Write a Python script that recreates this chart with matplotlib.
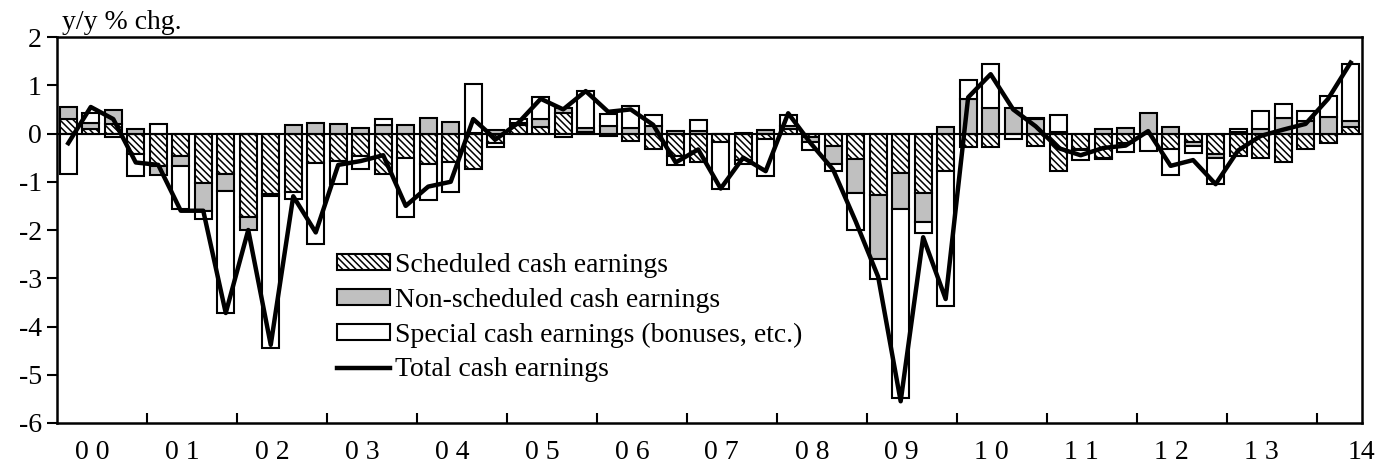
import matplotlib
matplotlib.use("Agg")
import matplotlib.pyplot as plt
import numpy as np
from matplotlib.lines import Line2D
from matplotlib.patches import Patch

plt.rcParams["font.family"] = ["Liberation Serif", "DejaVu Serif"]
plt.rcParams["hatch.linewidth"] = 1.1

# quarterly, 2000 Q1 .. 2014 Q2 (y/y % chg.)
scheduled = [0.31, 0.09, 0.20, -0.43, -0.67, -0.46, -1.03, -0.84,
             -1.74, -1.25, -1.22, -0.62, -0.57, -0.46, -0.84, -0.51,
             -0.64, -0.60, -0.74, -0.20, 0.17, 0.14, 0.43, 0.04,
             -0.05, -0.16, -0.33, -0.46, -0.60, -0.17, -0.55, -0.12,
             0.10, -0.08, -0.26, -0.53, -1.27, -0.81, -1.24, -0.78,
             -0.27, -0.27, -0.02, -0.26, -0.78, -0.33, -0.50, -0.19,
             -0.02, -0.33, -0.17, -0.43, -0.46, -0.50, -0.59, -0.32,
             -0.19, 0.13]
non_scheduled = [0.23, 0.12, 0.28, 0.10, -0.18, -0.21, -0.57, -0.36,
                 -0.26, -0.05, 0.18, 0.21, 0.19, 0.12, 0.17, 0.18,
                 0.33, 0.24, 0.02, 0.08, 0.04, 0.16, 0.10, 0.08,
                 0.15, 0.12, 0.16, 0.05, 0.05, 0.00, 0.02, 0.08,
                 0.05, -0.10, -0.37, -0.71, -1.34, -0.76, -0.60, 0.14,
                 0.71, 0.52, 0.52, 0.30, 0.03, -0.02, 0.10, 0.12,
                 0.43, 0.14, -0.08, -0.07, 0.03, 0.09, 0.33, 0.25,
                 0.35, 0.12]
special = [-0.83, 0.21, -0.08, -0.45, 0.20, -0.90, -0.17, -2.53,
           0.00, -3.15, -0.13, -1.66, -0.48, -0.28, 0.14, -1.21,
           -0.73, -0.62, 1.00, -0.07, 0.10, 0.45, -0.07, 0.76,
           0.25, 0.46, 0.22, -0.19, 0.23, -0.98, -0.09, -0.76,
           0.23, -0.16, -0.15, -0.75, -0.40, -3.91, -0.23, -2.79,
           0.40, 0.93, -0.10, 0.03, 0.35, -0.19, -0.02, -0.19,
           -0.34, -0.52, -0.15, -0.55, 0.07, 0.38, 0.28, 0.22,
           0.43, 1.20]
total = [-0.20, 0.55, 0.30, -0.60, -0.65, -1.60, -1.60, -3.72,
         -2.00, -4.38, -1.30, -2.05, -0.65, -0.57, -0.45, -1.50,
         -1.10, -1.00, 0.30, -0.12, 0.22, 0.72, 0.50, 0.88,
         0.45, 0.50, 0.18, -0.60, -0.33, -1.14, -0.50, -0.78,
         0.42, -0.20, -0.75, -1.82, -2.97, -5.55, -2.15, -3.43,
         0.75, 1.23, 0.50, 0.15, -0.30, -0.45, -0.30, -0.25,
         0.05, -0.67, -0.55, -1.05, -0.35, -0.05, 0.08, 0.20,
         0.72, 1.47]
year_labels = ["0 0", "0 1", "0 2", "0 3", "0 4", "0 5", "0 6", "0 7",
               "0 8", "0 9", "1 0", "1 1", "1 2", "1 3", "14"]

n = len(total)
x = np.arange(n)
fig, ax = plt.subplots(figsize=(13.84, 4.75), dpi=100)
fig.subplots_adjust(left=0.0412, right=0.984, top=0.922, bottom=0.1095)

# stacked bars: positives build up from zero, negatives build down
series = [
    (scheduled, dict(facecolor="white", hatch="\\" * 5), "Scheduled cash earnings"),
    (non_scheduled, dict(facecolor="#c0c0c0"), "Non-scheduled cash earnings"),
    (special, dict(facecolor="white"), "Special cash earnings (bonuses, etc.)"),
]
pos = np.zeros(n)
neg = np.zeros(n)
handles = []
for vals, style, label in series:
    v = np.asarray(vals)
    bottom = np.where(v >= 0, pos, neg)
    ax.bar(x, v, width=0.75, bottom=bottom, edgecolor="black",
           linewidth=1.5, zorder=2, **style)
    pos = pos + np.clip(v, 0, None)
    neg = neg + np.clip(v, None, 0)
    handles.append(Patch(edgecolor="black", linewidth=1.5, label=label, **style))

ax.axhline(0, color="black", linewidth=1.5, zorder=3)
ax.plot(x, total, color="black", linewidth=3.2, zorder=4)
handles.append(Line2D([], [], color="black", linewidth=3.2, label="Total cash earnings"))

ax.set_xlim(-0.5, n - 0.5)
ax.set_ylim(-6, 2)
ax.set_yticks(np.arange(-6, 3, 1))
ax.set_yticklabels([str(v) for v in range(-6, 3)])
ax.tick_params(axis="y", direction="out", length=7, width=1.5, labelsize=20, pad=4)

# year separators inside, labels between them
ax.set_xticks(np.arange(3.5, n - 1, 4))
ax.set_xticklabels([])
ax.tick_params(axis="x", which="major", direction="in", length=7, width=1.5)
label_pos = [4 * k + 1.5 - 0.45 for k in range(len(year_labels) - 1)] + [n - 0.5]
ax.set_xticks(label_pos, minor=True)
ax.set_xticklabels(year_labels, minor=True)
ax.tick_params(axis="x", which="minor", length=0, labelsize=20, pad=12)

for s in ax.spines.values():
    s.set_linewidth(1.8)

ax.text(0.004, 1.005, "y/y % chg.", transform=ax.transAxes, fontsize=20,
        va="bottom", ha="left")

ax.legend(handles=handles, loc="upper left", bbox_to_anchor=(0.2146, 0.44),
          frameon=False, fontsize=20, handlelength=1.9, handleheight=0.5,
          handletextpad=0.2, labelspacing=0.35, borderpad=0, borderaxespad=0)

fig.savefig("out.png", dpi=100)
